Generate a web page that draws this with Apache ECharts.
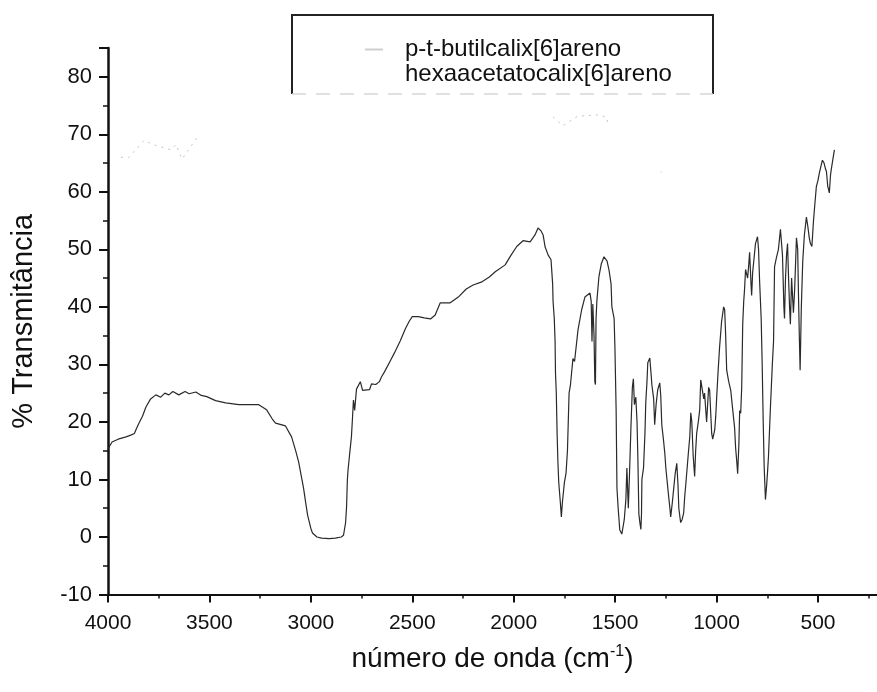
<!DOCTYPE html>
<html><head><meta charset="utf-8">
<script src="https://cdn.jsdelivr.net/npm/echarts@6/dist/echarts.min.js"></script>
<style>html,body{margin:0;padding:0;background:#fff}#c{width:877px;height:692px}</style>
</head><body><div id="c"></div>
<script>
const seriesNames = ['p-t-butilcalix[6]areno', 'hexaacetatocalix[6]areno'];

const butilWavenumber = [4000,3980,3950,3911,3888,3870,3860,3847,3830,3813,3790,3764,3740,3720,3700,3680,3651,3620,3600,3567,3540,3513,3470,3420,3355,3300,3257,3218,3190,3174,3125,3095,3075,3060,3036,3026,3016,3000,2992,2970,2947,2910,2879,2850,2839,2829,2824,2820,2817,2810,2800,2795,2790,2784,2775,2756,2745,2736,2711,2701,2680,2662,2652,2637,2610,2588,2559,2534,2515,2500,2470,2441,2410,2387,2362,2313,2273,2234,2200,2160,2120,2091,2042,2013,1985,1954,1919,1895,1880,1865,1855,1845,1830,1816,1808,1806,1800,1796,1794,1790,1786,1782,1778,1770,1765,1760,1750,1742,1735,1727,1720,1708,1700,1683,1665,1649,1624,1618,1614,1610,1604,1600,1597,1594,1590,1580,1568,1555,1540,1530,1520,1516,1505,1501,1495,1491,1485,1477,1467,1455,1447,1442,1435,1430,1422,1415,1410,1405,1398,1392,1388,1383,1378,1373,1370,1368,1360,1353,1349,1343,1339,1329,1322,1319,1310,1305,1298,1290,1280,1275,1270,1262,1255,1250,1243,1236,1230,1226,1218,1211,1204,1196,1190,1186,1177,1170,1162,1157,1152,1145,1138,1132,1127,1122,1115,1108,1103,1098,1090,1083,1078,1073,1063,1059,1049,1039,1034,1024,1019,1009,1004,999,992,985,975,965,960,955,950,940,930,920,911,906,900,896,890,886,881,876,871,866,862,857,847,842,837,830,827,822,815,808,798,793,788,780,775,770,765,759,753,749,744,735,725,719,714,705,695,685,675,668,665,660,655,650,645,640,636,630,621,615,606,600,596,592,588,582,575,567,557,550,543,537,530,522,515,508,500,493,485,478,470,463,458,452,444,438,434,425,419];
const butilTransmittance = [15.3,16.5,17.0,17.4,17.7,18.0,18.8,19.8,21.0,22.6,24.0,24.7,24.3,25.0,24.7,25.3,24.7,25.3,24.9,25.2,24.6,24.4,23.7,23.3,23.0,23.0,23.0,22.1,20.5,19.8,19.3,17.4,15.0,13.0,8.5,6.1,3.8,1.5,0.7,0.0,-0.2,-0.3,-0.2,0.0,0.3,2.4,5.2,9.9,11.5,14.0,17.4,20.5,23.8,22.0,25.7,27.0,25.5,25.2,25.6,26.6,26.5,27.0,27.8,28.7,30.5,32.0,34.1,36.2,37.5,38.3,38.3,38.1,37.9,38.6,40.7,40.7,41.7,43.1,43.8,44.3,45.2,46.1,47.3,49.0,50.5,51.5,51.3,52.5,53.7,53.2,52.5,50.4,49.0,48.2,44.0,41.0,38.0,34.0,28.5,25.0,18.0,13.0,9.5,6.0,3.5,6.0,9.5,11.1,15.0,25.0,26.5,31.0,30.5,36.0,39.5,41.7,42.4,41.0,34.0,40.5,35.0,27.0,26.5,38.0,41.0,45.2,47.5,48.7,48.0,46.4,44.0,40.0,38.0,33.0,22.0,8.5,5.0,1.2,0.5,3.0,6.5,12.0,5.0,10.0,19.1,26.0,27.5,23.0,24.3,20.0,14.0,4.0,2.5,1.3,4.0,10.0,12.0,18.0,23.3,27.0,30.3,31.1,28.0,26.5,24.0,19.5,23.0,25.6,26.8,24.5,19.5,17.0,14.5,12.0,9.5,7.0,5.0,3.5,6.0,8.5,11.0,12.8,9.0,5.0,2.5,3.0,4.2,7.0,9.0,12.0,15.0,17.4,21.6,20.0,14.0,10.5,15.0,18.0,20.0,22.1,27.3,27.0,24.0,25.0,20.0,26.0,25.5,18.0,17.0,18.6,21.0,24.5,29.0,33.0,37.5,40.0,39.5,35.0,29.0,27.0,25.5,22.0,19.0,15.5,13.0,11.0,16.0,22.0,21.5,26.0,37.0,41.0,43.0,46.5,45.0,47.0,49.5,44.0,42.0,46.0,48.5,51.0,52.2,50.0,44.7,38.0,30.0,20.0,12.0,6.5,9.0,11.1,14.0,22.0,30.0,34.0,47.0,48.5,50.0,53.5,49.0,40.0,38.0,45.0,49.0,51.0,45.0,40.0,37.0,45.0,39.0,43.0,52.0,50.0,42.0,35.0,29.0,40.0,48.0,52.5,55.6,54.0,52.0,51.0,50.5,55.0,58.0,60.9,62.0,63.3,64.5,65.5,65.0,64.0,63.5,61.0,59.8,63.0,64.0,66.0,67.3];

const hexaWavenumber = [3936,3897,3823,3758,3690,3665,3635,3562,3000,1806,1757,1683,1644,1580,1540,1535,1400,1275,1270];
const hexaTransmittance = [66.0,66.0,68.9,68.0,67.3,68.2,65.7,69.4,null,73.0,71.5,73.2,73.2,73.4,72.9,71.3,null,63.5,63.3];

const xMajorTicks = [4000,3500,3000,2500,2000,1500,1000,500];
const xMinorTicks = [3750,3250,2750,2250,1750,1250,750,250];
const xAxisTitle = 'número de onda (cm{sup|-1})';
const yAxisTitle = '% Transmitância';

const toPairs = (xs, ys) => xs.map((x, i) => [x, ys[i] === null ? '-' : ys[i]]);

const FONT = '"Liberation Sans", Arial, sans-serif';
const INK = '#111';
const chart = echarts.init(document.getElementById('c'), null, {renderer: 'canvas'});
chart.setOption({
  backgroundColor: '#ffffff',
  animation: false,
  grid: {left: 108, right: 0, top: 48, bottom: 97.5, containLabel: false},
  xAxis: [{
    type: 'value', inverse: true, min: 209, max: 4000, position: 'bottom',
    axisLine: {show: true, onZero: false, lineStyle: {color: INK, width: 2}},
    axisTick: {show: true, inside: false, length: 8, customValues: xMajorTicks, lineStyle: {color: INK, width: 2}},
    splitLine: {show: false},
    axisLabel: {color: INK, fontSize: 21, fontFamily: FONT, margin: 18, customValues: xMajorTicks, formatter: v => String(v)},
    name: xAxisTitle, nameLocation: 'middle', nameGap: 49,
    nameTextStyle: {color: INK, fontSize: 28, fontFamily: FONT,
      rich: {sup: {fontSize: 16, verticalAlign: 'top', padding: [0, 0, 16, 0], fontFamily: FONT, color: INK}}}
  }, {
    type: 'value', inverse: true, min: 209, max: 4000, position: 'bottom', gridIndex: 0,
    axisLine: {show: false, onZero: false},
    axisTick: {show: true, inside: false, length: 4, customValues: xMinorTicks, lineStyle: {color: INK, width: 1.5}},
    axisLabel: {show: false}, splitLine: {show: false}
  }],
  yAxis: {
    type: 'value', min: -10, max: 85, interval: 10,
    axisLine: {show: true, onZero: false, lineStyle: {color: INK, width: 2.5}},
    axisTick: {show: true, inside: false, length: 9, lineStyle: {color: INK, width: 2}},
    minorTick: {show: true, splitNumber: 2, length: 5, lineStyle: {color: INK, width: 1.5}},
    splitLine: {show: false},
    axisLabel: {color: INK, fontSize: 22, fontFamily: FONT, margin: 16, showMaxLabel: false},
    name: yAxisTitle, nameLocation: 'middle', nameGap: 70, nameRotate: 90,
    nameTextStyle: {color: INK, fontSize: 29, fontFamily: FONT}
  },
  legend: {
    orient: 'vertical', left: 360, top: 32, itemWidth: 18, itemHeight: 2, itemGap: 0,
    textStyle: {color: INK, fontSize: 24, fontFamily: FONT, lineHeight: 25, padding: [0, 0, 0, 17]},
    data: [
      {name: seriesNames[0], icon: 'rect', itemStyle: {color: '#cfcfcf'}},
      {name: seriesNames[1], icon: 'rect', itemStyle: {color: '#ffffff', opacity: 0}}
    ]
  },
  graphic: [
    {type: 'polyline', silent: true, shape: {points: [[292, 94], [292, 15], [713, 15], [713, 94]]},
      style: {stroke: '#222', lineWidth: 2, fill: null}},
    {type: 'line', silent: true, shape: {x1: 292, y1: 94, x2: 713, y2: 94},
      style: {stroke: '#d6d6d6', lineWidth: 1.5, lineDash: [14, 10]}}
  ],
  series: [
    {
      name: seriesNames[0], type: 'line', data: toPairs(butilWavenumber, butilTransmittance),
      showSymbol: false, symbol: 'none', smooth: false, clip: true,
      lineStyle: {color: '#2a2a2a', width: 1.2}, itemStyle: {color: '#2a2a2a'}
    },
    {
      name: seriesNames[1], type: 'line', data: toPairs(hexaWavenumber, hexaTransmittance),
      showSymbol: false, symbol: 'none', connectNulls: false,
      lineStyle: {color: '#c4c4c4', width: 1, type: [2, 5]}, itemStyle: {color: '#c4c4c4'}
    }
  ]
});
</script></body></html>
